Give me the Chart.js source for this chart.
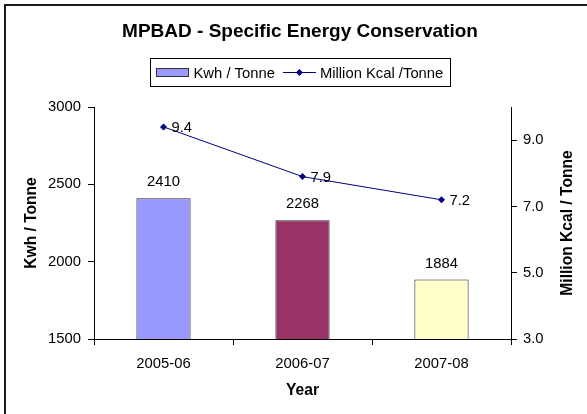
<!DOCTYPE html>
<html>
<head>
<meta charset="utf-8">
<title>MPBAD - Specific Energy Conservation</title>
<script src="https://cdn.jsdelivr.net/npm/chart.js@4.4.1/dist/chart.umd.min.js"></script>
<style>
    html, body { margin: 0; padding: 0; background: #fff; }
    #wrap { width: 587px; height: 414px; }
</style>
</head>
<body>
<div id="wrap"><canvas id="chart" width="587" height="414"></canvas></div>
<script>
// Chart data
const years = ['2005-06', '2006-07', '2007-08'];
const kwhPerTonne = [2410, 2268, 1884];
const kcalPerTonne = [9.4, 7.9, 7.2];
const seriesNames = ['Kwh / Tonne', 'Million Kcal /Tonne'];
const leftTicks = [1500, 2000, 2500, 3000];
const rightTicks = [3, 5, 7, 9];
const barColors = ['#9999FF', '#993366', '#FFFFCC'];

const FAMILY = "'Liberation Sans', Arial, sans-serif";
const TEXT_SIZE = 14.8;
const LINE_COLOR = '#000080';
const RIGHT_TITLE = 'Million Kcal / Tonne';

// White background and the frame edge of the chart
const framePlugin = {
    id: 'frame',
    beforeDraw(chart) {
        const ctx = chart.ctx;
        ctx.save();
        ctx.fillStyle = '#fff';
        ctx.fillRect(0, 0, chart.width, chart.height);
        ctx.strokeStyle = '#1a1a1a';
        ctx.lineWidth = 2;
        ctx.beginPath();
        ctx.moveTo(5, chart.height + 5);
        ctx.lineTo(5, 5);
        ctx.lineTo(chart.width + 5, 5);
        ctx.stroke();
        ctx.restore();
    }
};

// Value labels above the bars and beside the points
const valueLabels = {
    id: 'valueLabels',
    afterDatasetsDraw(chart) {
        const ctx = chart.ctx;
        ctx.save();
        ctx.font = `${TEXT_SIZE}px ${FAMILY}`;
        ctx.fillStyle = '#000';
        ctx.textBaseline = 'middle';

        ctx.textAlign = 'center';
        chart.getDatasetMeta(1).data.forEach((bar, i) => {
            ctx.fillText(String(kwhPerTonne[i]), bar.x, bar.y - 16);
        });

        ctx.textAlign = 'left';
        chart.getDatasetMeta(0).data.forEach((pt, i) => {
            ctx.fillText(kcalPerTonne[i].toFixed(1), pt.x + 8, pt.y + 1);
        });
        ctx.restore();
    }
};

// Boxed legend under the title, and the right axis title read bottom-to-top
const legendBox = {
    id: 'legendBox',
    afterDraw(chart) {
        const ctx = chart.ctx;
        const t = chart.titleBlock;
        const cx = (t.left + t.right) / 2;
        ctx.save();
        ctx.font = `${TEXT_SIZE}px ${FAMILY}`;
        const w1 = ctx.measureText(seriesNames[0]).width;
        const w2 = ctx.measureText(seriesNames[1]).width;
        const total = 6 + 32 + 5 + w1 + 8 + 33 + 4 + w2 + 7;
        const left = Math.round(cx - total / 2) + 0.5;
        const top = 58.5;
        const h = 28;
        const mid = top + h / 2;

        ctx.strokeStyle = '#000';
        ctx.lineWidth = 1;
        ctx.strokeRect(left, top, Math.round(total), h);

        let x = left + 6;
        ctx.fillStyle = barColors[0];
        ctx.fillRect(x, mid - 4, 32, 8);
        ctx.strokeStyle = '#333';
        ctx.strokeRect(x, mid - 4, 32, 8);
        x += 32 + 5;

        ctx.fillStyle = '#000';
        ctx.textBaseline = 'middle';
        ctx.textAlign = 'left';
        ctx.fillText(seriesNames[0], x, mid + 1);
        x += w1 + 8;

        ctx.strokeStyle = LINE_COLOR;
        ctx.beginPath();
        ctx.moveTo(x, mid);
        ctx.lineTo(x + 33, mid);
        ctx.stroke();
        ctx.fillStyle = LINE_COLOR;
        ctx.beginPath();
        const dx = x + 16.5;
        ctx.moveTo(dx, mid - 3.5);
        ctx.lineTo(dx + 3.5, mid);
        ctx.lineTo(dx, mid + 3.5);
        ctx.lineTo(dx - 3.5, mid);
        ctx.closePath();
        ctx.fill();
        x += 33 + 4;

        ctx.fillStyle = '#000';
        ctx.fillText(seriesNames[1], x, mid + 1);

        // right axis title
        const y2 = chart.scales.y2;
        const area = chart.chartArea;
        ctx.translate(y2.right - 2.6 - 9.36, (area.top + area.bottom) / 2);
        ctx.rotate(-Math.PI / 2);
        ctx.font = `bold 15.6px ${FAMILY}`;
        ctx.textAlign = 'center';
        ctx.fillText(RIGHT_TITLE, 0, 0);
        ctx.restore();
    }
};

const axisGrid = {
    display: true,
    drawOnChartArea: false,
    drawTicks: true,
    tickLength: 6,
    color: '#000'
};
const axisBorder = { display: true, color: '#000', width: 1 };
const tickFont = { family: FAMILY, size: TEXT_SIZE };
const titleFont = { family: FAMILY, size: 15.6, weight: 'bold' };

new Chart(document.getElementById('chart'), {
    data: {
        labels: years,
        datasets: [
            {
                type: 'line',
                label: seriesNames[1],
                data: kcalPerTonne,
                yAxisID: 'y2',
                order: 0,
                borderColor: LINE_COLOR,
                backgroundColor: LINE_COLOR,
                borderWidth: 1,
                pointStyle: 'rectRot',
                pointRadius: 3.5,
                pointBorderWidth: 0,
                tension: 0
            },
            {
                type: 'bar',
                label: seriesNames[0],
                data: kwhPerTonne,
                yAxisID: 'y',
                order: 1,
                backgroundColor: barColors,
                borderColor: '#222',
                borderWidth: 1,
                borderSkipped: false,
                categoryPercentage: 1,
                barPercentage: 0.39
            }
        ]
    },
    options: {
        responsive: false,
        animation: false,
        layout: { padding: { top: 10, left: 20, right: 7, bottom: 10 } },
        plugins: {
            legend: { display: false },
            tooltip: { enabled: false },
            title: {
                display: true,
                text: 'MPBAD - Specific Energy Conservation',
                color: '#000',
                font: { family: FAMILY, size: 19, weight: 'bold' },
                padding: { top: 10, bottom: 64.2 }
            }
        },
        scales: {
            x: {
                grid: { ...axisGrid, offset: true },
                border: axisBorder,
                ticks: { font: tickFont, color: '#000', padding: 10, maxRotation: 0 },
                title: { display: true, text: 'Year', color: '#000', font: titleFont, padding: { top: 0, bottom: 3.6 } },
                afterFit(scale) { scale.height = 65; }
            },
            y: {
                position: 'left',
                min: 1500,
                max: 3000,
                grid: axisGrid,
                border: axisBorder,
                ticks: { font: tickFont, color: '#000', padding: 7, callback: v => String(v) },
                afterBuildTicks(scale) { scale.ticks = leftTicks.map(v => ({ value: v })); },
                title: { display: true, text: 'Kwh / Tonne', color: '#000', font: titleFont, padding: { top: 2.6, bottom: 0 } },
                afterFit(scale) { scale.width = 74; }
            },
            y2: {
                position: 'right',
                min: 3,
                max: 10,
                grid: axisGrid,
                border: axisBorder,
                ticks: {
                    font: tickFont,
                    color: '#000',
                    padding: 6,
                    callback: v => Number(v).toFixed(1)
                },
                afterBuildTicks(scale) { scale.ticks = rightTicks.map(v => ({ value: v })); },
                title: { display: false, text: RIGHT_TITLE },
                afterFit(scale) { scale.width = 69; }
            }
        }
    },
    plugins: [framePlugin, valueLabels, legendBox]
});
</script>
</body>
</html>
